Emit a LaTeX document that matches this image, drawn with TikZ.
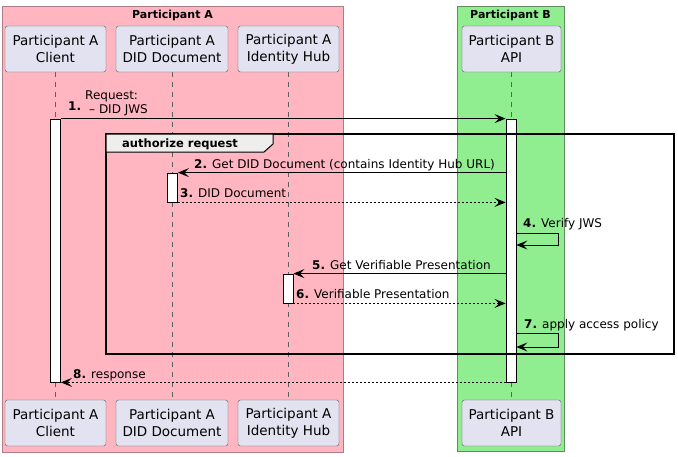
\documentclass[tikz,border=0pt]{standalone}
\usepackage{fontspec}
\setmainfont{DejaVu Sans}
\usetikzlibrary{arrows.meta,calc}
\definecolor{pinkbg}{RGB}{255,182,193}
\definecolor{pinkline}{RGB}{170,125,135}
\definecolor{greenbg}{RGB}{144,238,144}
\definecolor{greenline}{RGB}{95,140,95}
\definecolor{partfill}{RGB}{226,226,240}
\definecolor{tabfill}{RGB}{238,238,238}
\tikzset{
	part/.style={draw=gray!70!black, fill=partfill, rounded corners=2.5pt, align=center,
		font=\fontsize{13.5}{17}\selectfont, minimum height=46pt, inner sep=0pt},
	boxtitle/.style={anchor=base, font=\bfseries\fontsize{11}{12}\selectfont},
	actbar/.style={draw, fill=white, line width=0.8pt, minimum width=10pt, inner sep=0pt},
	life/.style={gray!75!black, line width=0.7pt, dash pattern=on 5pt off 5pt},
	msg/.style={line width=0.9pt, -{Stealth[length=11pt,width=9pt,inset=4.5pt]}},
	reply/.style={msg, dash pattern=on 2pt off 2pt},
	lbl/.style={anchor=base west, inner sep=0pt, font=\fontsize{12}{14}\selectfont},
}
\begin{document}
\begin{tikzpicture}[x=1pt, y=-1pt]
	\useasboundingbox (0,0) rectangle (678,456);
	
	% Hộp nền của hai bên tham gia
	\draw[pinkline, fill=pinkbg] (2,6) rectangle (343,452);
	\node[boxtitle] (boxA) at (172.5,18) {Participant A};
	\draw[greenline, fill=greenbg] (457,6) rectangle (564,451);
	\node[boxtitle] (boxB) at (510.5,18) {Participant B};
	
	% Các đường sống
	\draw[life] (55.5,72) -- (55.5,400);
	\draw[life] (172.5,72) -- (172.5,400);
	\draw[life] (288.5,72) -- (288.5,400);
	\draw[life] (511,72) -- (511,400);
	
	% Các đối tượng ở trên và ở dưới
	\node[part, minimum width=101pt] (clientT) at (55.5,49) {Participant A\\Client};
	\node[part, minimum width=112pt] (didT) at (172,49) {Participant A\\DID Document};
	\node[part, minimum width=101pt] (hubT) at (288.5,49) {Participant A\\Identity Hub};
	\node[part, minimum width=99pt] (apiT) at (511.5,49) {Participant B\\API};
	\node[part, minimum width=101pt] (clientB) at (55.5,423) {Participant A\\Client};
	\node[part, minimum width=112pt] (didB) at (172,423) {Participant A\\DID Document};
	\node[part, minimum width=101pt] (hubB) at (288.5,423) {Participant A\\Identity Hub};
	\node[part, minimum width=99pt] (apiB) at (511.5,423) {Participant B\\API};
	
	% Các thanh kích hoạt
	\node[actbar, minimum height=263pt] (clientAct) at (55.5,250.5) {};
	\node[actbar, minimum height=263pt] (apiAct) at (511,250.5) {};
	\node[actbar, minimum height=29pt] (didAct) at (172.5,187.5) {};
	\node[actbar, minimum height=29pt] (hubAct) at (288,288.5) {};
	
	% 1. Request
	\draw[msg] (clientAct.north east) -- (apiAct.north west);
	\node[lbl, font=\bfseries\fontsize{12}{14}\selectfont] (n1) at (68,110) {1.};
	\node[lbl] (t1a) at (85,99) {Request:};
	\node[lbl] (t1b) at (89,113) {– DID JWS};
	
	% Nhóm authorize request
	\draw[line width=1.5pt] (106,134) rectangle (674,354);
	\draw[line width=1pt, fill=tabfill] (106,134) -- (273,134) -- (273,144) -- (264,152) -- (106,152) -- cycle;
	\node[anchor=base west, inner sep=0pt, font=\bfseries\fontsize{11.5}{13}\selectfont] (grp) at (122,147) {authorize request};
	
	% 2. và 3.
	\draw[msg] (apiAct.west |- didAct.north) -- (didAct.north east);
	\node[lbl] (t2) at (194,168) {\textbf{2.} Get DID Document (contains Identity Hub URL)};
	\draw[reply] (didAct.south east) -- (didAct.south east -| apiAct.west);
	\node[lbl] (t3) at (180,197) {\textbf{3.} DID Document};
	
	% 4. Verify JWS
	\draw[msg] (apiAct.east |- 0,233) -| ++(42,12) -- (apiAct.east |- 0,245);
	\node[lbl] (t4) at (523,227) {\textbf{4.} Verify JWS};
	
	% 5. và 6.
	\draw[msg] (apiAct.west |- hubAct.north) -- (hubAct.north east);
	\node[lbl] (t5) at (312,269) {\textbf{5.} Get Verifiable Presentation};
	\draw[reply] (hubAct.south east) -- (hubAct.south east -| apiAct.west);
	\node[lbl] (t6) at (296,298) {\textbf{6.} Verifiable Presentation};
	
	% 7. apply access policy
	\draw[msg] (apiAct.east |- 0,333) -| ++(42,14) -- (apiAct.east |- 0,347);
	\node[lbl] (t7) at (524,328) {\textbf{7.} apply access policy};
	
	% 8. response
	\draw[reply] (apiAct.south west) -- (clientAct.south east);
	\node[lbl] (t8) at (73,378) {\textbf{8.} response};
\end{tikzpicture}
\end{document}
